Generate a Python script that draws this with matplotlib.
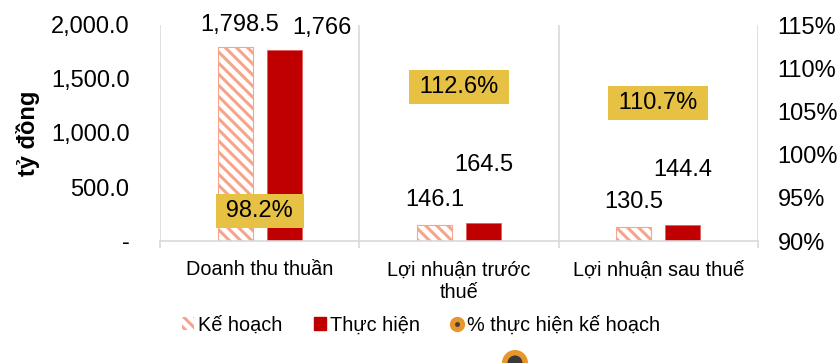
import matplotlib.pyplot as plt
from matplotlib.patches import Patch, Ellipse
from matplotlib.lines import Line2D
import numpy as np

plt.rcParams['font.family'] = ['Liberation Sans', 'DejaVu Sans']
plt.rcParams['hatch.linewidth'] = 2.2

categories = ['Doanh thu thuần', 'Lợi nhuận trước\nthuế', 'Lợi nhuận sau thuế']
ke_hoach = [1798.5, 146.1, 130.5]
thuc_hien = [1766.0, 164.5, 144.4]
pct = [98.2, 112.6, 110.7]
kh_labels = ['1,798.5', '146.1', '130.5']
th_labels = ['1,766', '164.5', '144.4']

# label offsets in pixels (dx, dy) from bar top
kh_off = [(4, 22), (0, 25), (0, 25)]
th_off = [(38, 22), (0, 58), (0, 55)]

c_plan = '#F7A48B'
c_real = '#C00000'
c_gold = '#E6C144'
c_grid = '#D9D9D9'

fig = plt.figure(figsize=(8.4, 3.63), dpi=100)
ax = fig.add_axes([160/840, 1-241/363, 598/840, 216/363])
ax2 = ax.twinx()

x = np.arange(len(categories))
w = 0.175
off = 0.1225
ax.bar(x - off, ke_hoach, w, color='white', edgecolor=c_plan, hatch='\\\\\\', linewidth=0.8)
ax.bar(x + off, thuc_hien, w, color=c_real, edgecolor='#E06060', linewidth=0.6)

for i in range(len(x)):
    ax.annotate(kh_labels[i], (x[i] - off, ke_hoach[i]), xytext=kh_off[i],
                textcoords='offset pixels', ha='center', va='center', fontsize=17)
    ax.annotate(th_labels[i], (x[i] + off, thuc_hien[i]), xytext=th_off[i],
                textcoords='offset pixels', ha='center', va='center', fontsize=17)

ax.set_xlim(-0.5, 2.5)
ax.set_ylim(0, 2000)
ax.set_yticks([0, 500, 1000, 1500, 2000])
ax.set_yticklabels(['-', '500.0', '1,000.0', '1,500.0', '2,000.0'])
ax.set_xticks(x)
ax.set_xticklabels(categories, fontsize=14.3, linespacing=1.25)
ax.set_xticks([-0.5, 0.5, 1.5, 2.5], minor=True)
ax.tick_params(axis='x', which='major', length=0, pad=14)
ax.tick_params(axis='x', which='minor', length=5, color=c_grid, width=1.2)
ax.tick_params(axis='y', length=0, labelsize=17, pad=22)
ax.grid(axis='x', which='minor', color=c_grid, linewidth=1.2)
ax.set_axisbelow(True)
for s in ['top', 'right', 'left']:
    ax.spines[s].set_visible(False)
ax.spines['bottom'].set_color(c_grid)
ax.spines['bottom'].set_linewidth(1.2)
ax.set_ylabel('tỷ đồng', fontsize=17, fontweight='bold', labelpad=8)

ax2.set_ylim(90, 115)
ax2.set_yticks([90, 95, 100, 105, 110, 115])
ax2.set_yticklabels([f'{v}%' for v in [90, 95, 100, 105, 110, 115]])
ax2.tick_params(axis='y', length=0, labelsize=17, pad=14)
for s in ax2.spines.values():
    s.set_visible(False)

for i in range(len(x)):
    ax2.annotate(f'\u2009{pct[i]:.1f}%\u2009', (x[i], pct[i]), xytext=(0, -41),
                 textcoords='offset pixels', ha='center', va='center', fontsize=17,
                 bbox=dict(boxstyle='square,pad=0.25', fc=c_gold, ec='none'))

h1 = Patch(facecolor='white', edgecolor=c_plan, hatch='\\\\\\', linewidth=0)
h2 = Patch(facecolor=c_real, edgecolor=c_real)
h3a = Line2D([], [], marker='o', color='none', markerfacecolor='#E8962A',
             markeredgecolor='#E8962A', markersize=10)
h3b = Line2D([], [], marker='o', color='none', markerfacecolor='#404040',
             markeredgecolor='#404040', markersize=2.5)
fig.legend([h1, h2, (h3a, h3b)], ['Kế hoạch', 'Thực hiện', '% thực hiện kế hoạch'],
           loc='center', bbox_to_anchor=(421/840, 1-325/363), ncol=3, frameon=False,
           fontsize=14.3, handlelength=0.6, handleheight=0.6, handletextpad=0.2,
           columnspacing=1.6)

# partially visible marker at the bottom edge
fig.add_artist(Ellipse((515/840, 0), 26/840, 26/363, transform=fig.transFigure,
                       facecolor='#E8962A', edgecolor='none'))
fig.add_artist(Ellipse((515/840, 0), 15/840, 15/363, transform=fig.transFigure,
                       facecolor='#3A3A3A', edgecolor='none'))

fig.savefig('out.png', dpi=100)
